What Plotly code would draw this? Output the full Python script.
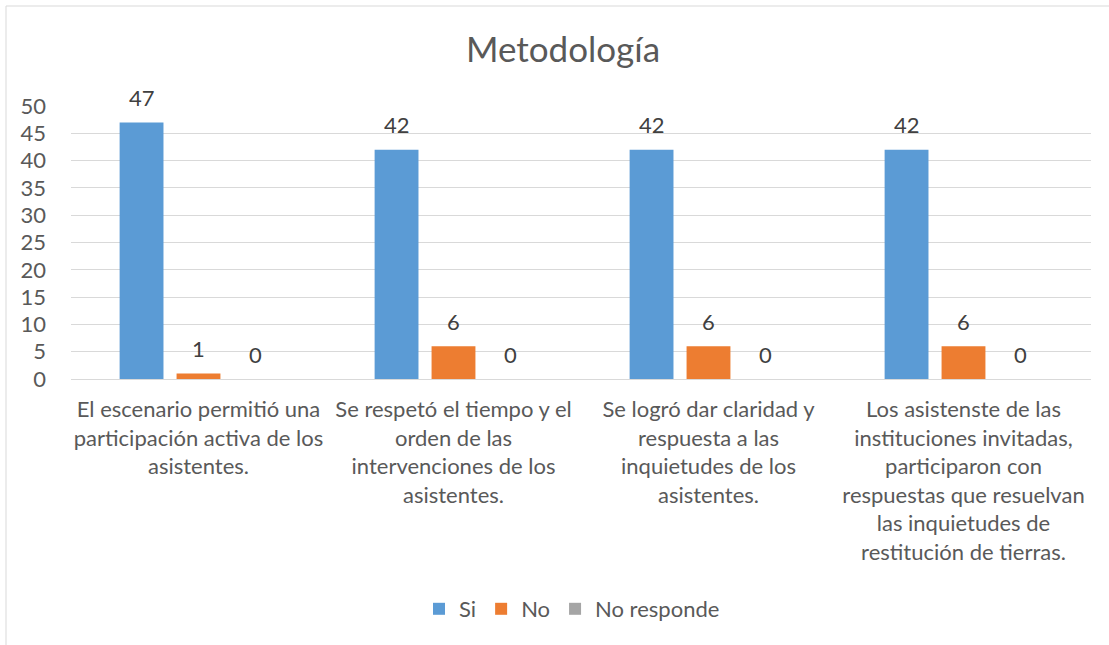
import plotly.graph_objects as go

categories = [
    "El escenario permitió una<br>participación activa de los<br>asistentes.",
    "Se respetó el tiempo y el<br>orden de las<br>intervenciones de los<br>asistentes.",
    "Se logró dar claridad y<br>respuesta a las<br>inquietudes de los<br>asistentes.",
    "Los asistenste de las<br>instituciones invitadas,<br>participaron con<br>respuestas que resuelvan<br>las inquietudes de<br>restitución de tierras.",
]
series_names = ["Si", "No", "No responde"]
si_values = [47, 42, 42, 42]
no_values = [1, 6, 6, 6]
nr_values = [0, 0, 0, 0]
colors = ["#5B9BD5", "#ED7D31", "#A5A5A5"]
y_ticks = [0, 5, 10, 15, 20, 25, 30, 35, 40, 45, 50]

FONT = "Lato, 'Open Sans', sans-serif"
TXT = "#595959"
BARGAP = 0.33

all_series = [si_values, no_values, nr_values]
n = len(all_series)

fig = go.Figure()
for name, vals, col in zip(series_names, all_series, colors):
    fig.add_trace(go.Bar(
        name=name, x=list(range(len(categories))), y=vals,
        marker=dict(color=col, line=dict(width=0)),
        cliponaxis=False,
    ))

# data labels
for j, vals in enumerate(all_series):
    off = (j - (n - 1) / 2) * (1 - BARGAP) / n
    for i, v in enumerate(vals):
        fig.add_annotation(x=i + off, y=v, xref="x", yref="y",
                           text=str(v), showarrow=False,
                           yanchor="middle", yshift=25,
                           font=dict(size=22, color="#404040", family=FONT))

W, H = 1109, 645
L, R, T, B = 71, 18, 106, 266
pw = W - L - R
ph = H - T - B

def px_to_paper_x(px):
    return (px - L) / pw

def px_to_paper_y(py):
    return (H - B - py) / ph

fig.add_shape(type="rect", xref="paper", yref="paper",
              x0=px_to_paper_x(6), x1=px_to_paper_x(1140),
              y0=px_to_paper_y(700), y1=px_to_paper_y(6),
              line=dict(color="#D9D9D9", width=1), layer="below")

fig.update_layout(
    width=W, height=H,
    margin=dict(l=L, r=R, t=T, b=B, pad=0),
    paper_bgcolor="white", plot_bgcolor="white",
    barmode="group", bargap=BARGAP, bargroupgap=0.23,
    font=dict(family=FONT, color=TXT, size=22),
    title=dict(text="Metodología", xref="paper", x=px_to_paper_x(563),
               xanchor="center", y=1 - 50 / H, yanchor="middle",
               font=dict(size=35, color=TXT, family=FONT)),
    showlegend=True,
    legend=dict(orientation="h", xanchor="left", x=px_to_paper_x(419),
                y=px_to_paper_y(609), yanchor="middle",
                font=dict(size=22, color=TXT, family=FONT),
                itemwidth=30, traceorder="normal"),
    xaxis=dict(tickmode="array", tickvals=list(range(len(categories))),
               ticktext=categories, showgrid=False, showline=False,
               zeroline=False, ticks="", ticklabelstandoff=15,
               tickfont=dict(size=22, color=TXT, family=FONT),
               range=[-0.5, len(categories) - 0.5]),
    yaxis=dict(range=[0, 50], tickmode="array", tickvals=y_ticks,
               showgrid=True, gridcolor="#D9D9D9", gridwidth=1,
               zeroline=True, zerolinecolor="#D9D9D9", zerolinewidth=1,
               showline=False, ticks="", ticklabelstandoff=24,
               tickfont=dict(size=22, color=TXT, family=FONT)),
)

fig.write_html("out.html", config={"displayModeBar": False},
               post_script="document.body.style.margin='0';")
